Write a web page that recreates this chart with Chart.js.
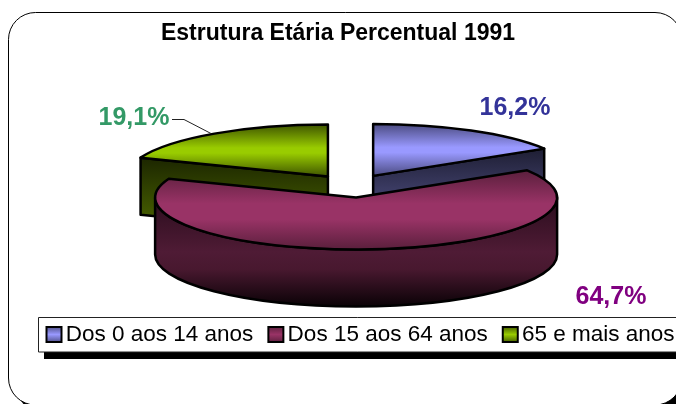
<!DOCTYPE html>
<html><head><meta charset="utf-8">
<style>html,body{margin:0;padding:0;background:#fff;overflow:hidden}#c{display:block}</style>
<script src="https://cdn.jsdelivr.net/npm/chart.js@4"></script>
</head><body>
<canvas id="c" width="676" height="404"></canvas>
<script>
const titleText = 'Estrutura Etária Percentual 1991';
const categories = ['Dos 0 aos 14 anos', 'Dos 15 aos 64 anos', '65 e mais anos'];
const values = [16.2, 64.7, 19.1];
const valueLabels = ['16,2%', '64,7%', '19,1%'];
const labelColors = ['#333399', '#800080', '#339966'];
const baseColors = ['#9999ff', '#993366', '#99cc00'];
const edgeColors = ['#4b4b80', '#5a1f3c', '#3f5500'];

const FONT = '"Liberation Sans", Arial, sans-serif';
const RADIUS = 201, SQUASH = 0.258, EXPLODE_SQUASH = 0.27, EXPLODE = 43, DEPTH = 57;
const PIE_CX = 352.2, PIE_CY = 186, STROKE = 2.5;
const drawOrder = [0, 2, 1];
const labelPos = [[515, 108], [611, 297], [134, 118]];

function centre(arc) {
  const mid = (arc.startAngle + arc.endAngle) / 2;
  return { x: PIE_CX + Math.cos(mid) * EXPLODE, y: PIE_CY + Math.sin(mid) * EXPLODE * EXPLODE_SQUASH };
}

function drawWalls(ctx, arc, i, c) {
  const rx = arc.outerRadius, ry = rx * SQUASH;
  ctx.save();
  ctx.lineWidth = STROKE;
  ctx.strokeStyle = '#000';
  ctx.lineJoin = 'round';
  if (i === 1) {
    // curved front wall: only the half that faces the viewer
    const g = ctx.createLinearGradient(0, c.y, 0, c.y + ry + DEPTH);
    g.addColorStop(0, '#2a0d1d');
    g.addColorStop(0.5, '#4f1b35');
    g.addColorStop(0.66, '#48182f');
    g.addColorStop(1, '#0a0206');
    ctx.beginPath();
    ctx.ellipse(c.x, c.y, rx, ry, 0, 0, Math.PI);
    ctx.ellipse(c.x, c.y + DEPTH, rx, ry, 0, Math.PI, 0, true);
    ctx.closePath();
    ctx.fillStyle = g;
    ctx.fill();
    ctx.stroke();
  } else {
    // the flat cut face that looks towards the viewer
    const a = i === 0 ? arc.endAngle : arc.startAngle;
    const px = c.x + rx * Math.cos(a), py = c.y + ry * Math.sin(a);
    const g = ctx.createLinearGradient(0, py, 0, c.y + DEPTH);
    g.addColorStop(0, i === 0 ? '#1e1e33' : '#1c2600');
    g.addColorStop(1, i === 0 ? '#5a5a96' : '#4f6a00');
    ctx.beginPath();
    ctx.moveTo(c.x, c.y);
    ctx.lineTo(px, py);
    ctx.lineTo(px, py + DEPTH);
    ctx.lineTo(c.x, c.y + DEPTH);
    ctx.closePath();
    ctx.fillStyle = g;
    ctx.fill();
    ctx.stroke();
  }
  ctx.restore();
}

const pie3d = {
  id: 'pie3d',
  afterLayout(chart) {
    chart.legend.left = 31.5;
    chart.legend.right = 740;
    chart.legend.top = 301.2;
  },
  beforeDraw(chart) {
    const ctx = chart.ctx;
    ctx.save();
    // outer frame with its hard shadow
    ctx.fillStyle = '#000';
    ctx.beginPath();
    ctx.roundRect(16.5, 20.5, 673.5, 392.5, 27);
    ctx.fill();
    ctx.strokeStyle = '#000';
    ctx.lineWidth = 1;
    ctx.fillStyle = '#fff';
    ctx.beginPath();
    ctx.roundRect(8.5, 12.5, 673.5, 392.5, 27);
    ctx.fill();
    ctx.stroke();
    // legend frame with its hard shadow
    ctx.fillStyle = '#000';
    ctx.fillRect(44, 352, 640, 7);
    ctx.fillStyle = '#fff';
    ctx.strokeStyle = '#222';
    ctx.beginPath();
    ctx.rect(38.5, 317.5, 660, 34.5);
    ctx.fill();
    ctx.stroke();
    ctx.restore();
  },
  beforeDatasetDraw(chart) {
    const ctx = chart.ctx;
    const arcs = chart.getDatasetMeta(0).data;
    drawOrder.forEach(i => {
      const arc = arcs[i], c = centre(arc);
      drawWalls(ctx, arc, i, c);
      // the library's own arc, squashed into its perspective ellipse
      ctx.save();
      ctx.translate(c.x, c.y);
      ctx.scale(1, SQUASH);
      ctx.translate(-arc.x, -arc.y);
      const R = arc.outerRadius;
      const top = i === 1 ? arc.y + R * Math.sin(arc.startAngle) : arc.y - R;
      const bot = i === 1 ? arc.y + R : arc.y;
      const g = ctx.createLinearGradient(0, top, 0, bot);
      g.addColorStop(0, edgeColors[i]);
      if (i === 1) {
        g.addColorStop(0.42, baseColors[i]);
        g.addColorStop(0.62, baseColors[i]);
      } else {
        g.addColorStop(0.45, baseColors[i]);
        g.addColorStop(0.55, baseColors[i]);
      }
      g.addColorStop(1, edgeColors[i]);
      arc.options.backgroundColor = g;
      arc.draw(ctx);
      ctx.restore();
      // even outline, drawn outside the squash so its width stays constant
      ctx.save();
      ctx.strokeStyle = '#000';
      ctx.lineWidth = STROKE;
      ctx.lineJoin = 'round';
      ctx.beginPath();
      ctx.moveTo(c.x, c.y);
      ctx.ellipse(c.x, c.y, R, R * SQUASH, 0, arc.startAngle, arc.endAngle);
      ctx.closePath();
      ctx.stroke();
      ctx.restore();
    });
    return false;
  },
  afterDraw(chart) {
    const ctx = chart.ctx;
    ctx.save();
    ctx.strokeStyle = '#222';
    ctx.lineWidth = 1;
    ctx.beginPath();
    ctx.moveTo(172, 119.5);
    ctx.lineTo(184, 119.5);
    ctx.lineTo(211, 133.5);
    ctx.stroke();
    ctx.font = 'bold 25px ' + FONT;
    ctx.textAlign = 'center';
    ctx.textBaseline = 'middle';
    valueLabels.forEach((t, i) => {
      ctx.fillStyle = labelColors[i];
      ctx.fillText(t, labelPos[i][0], labelPos[i][1]);
    });
    ctx.restore();
  }
};

new Chart(document.getElementById('c'), {
  type: 'pie',
  data: {
    labels: categories,
    datasets: [{ data: values, backgroundColor: baseColors, borderWidth: 0, radius: RADIUS }]
  },
  options: {
    responsive: false,
    animation: false,
    plugins: {
      tooltip: { enabled: false },
      title: {
        display: true,
        text: titleText,
        color: '#000',
        font: { family: FONT, size: 23, weight: 'bold' },
        padding: { top: 20, bottom: 10 }
      },
      legend: {
        position: 'bottom',
        align: 'start',
        labels: {
          color: '#000',
          font: { family: FONT, size: 22.5, lineHeight: 1 },
          usePointStyle: true,
          boxWidth: 1,
          boxHeight: 15,
          padding: 22,
          generateLabels(chart) {
            return categories.map((t, i) => {
              const g = chart.ctx.createLinearGradient(0, 326, 0, 343);
              g.addColorStop(0, edgeColors[i]);
              g.addColorStop(0.5, baseColors[i]);
              g.addColorStop(1, edgeColors[i]);
              return { text: t, fillStyle: g, strokeStyle: '#000', lineWidth: 2, fontColor: '#000', pointStyle: 'rect', rotation: 0, hidden: false, index: i };
            });
          }
        }
      }
    }
  },
  plugins: [pie3d]
});
</script>
</body></html>
